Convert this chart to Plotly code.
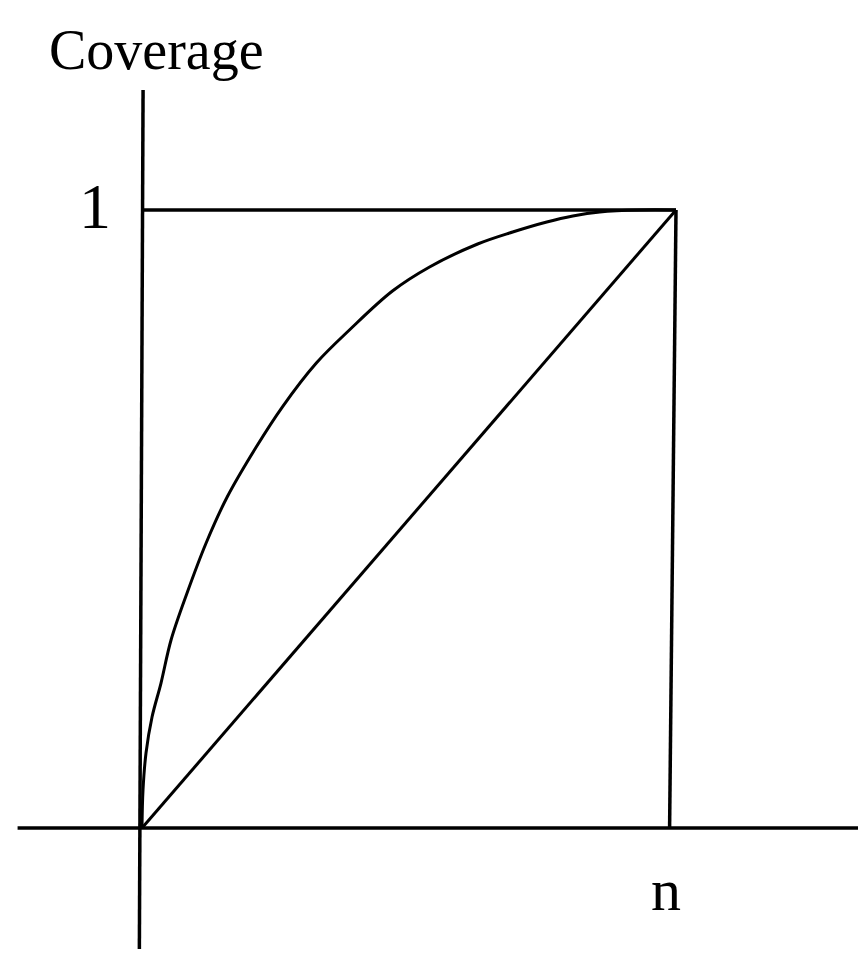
import plotly.graph_objects as go

# coverage curve, x in units of n, y as fraction covered
curve_x = [0, 0.0019, 0.0075, 0.0188, 0.0356, 0.0544, 0.0844, 0.1201, 0.1595,
           0.2139, 0.2627, 0.3265, 0.3884, 0.4690, 0.5385, 0.6285,
           0.6942, 0.7580, 0.8068, 0.8574, 0.9324, 1.0]
curve_y = [0, 0.0615, 0.1214, 0.1796, 0.2346, 0.3042, 0.3803, 0.4612, 0.5356,
           0.6165, 0.6812, 0.7524, 0.8058, 0.8689, 0.9078, 0.9450,
           0.9644, 0.9806, 0.9903, 0.9968, 1.0, 1.0]

# straight line coverage
diag_x = [0, 1]
diag_y = [0, 1]

# box: top edge at coverage 1, right edge at n
top_x = [0, 1]
top_y = [1, 1]
right_x = [1, 0.988]
right_y = [1, 0]

# the two axes
xaxis_x = [-0.233, 1.36]
xaxis_y = [0, 0]
yaxis_x = [0.002, -0.005]
yaxis_y = [1.194, -0.21]

# page body adds an 8px margin, so the figure is drawn 16px smaller
W, H = 850, 941
ox, oy = 134, 820   # origin in figure pixels
sx, sy = 534, 618   # pixels per unit

ink = 'black'
fig = go.Figure()

for xs, ys in [(xaxis_x, xaxis_y), (yaxis_x, yaxis_y), (top_x, top_y),
               (right_x, right_y)]:
    fig.add_trace(go.Scatter(x=xs, y=ys, mode='lines',
                             line=dict(color=ink, width=3.5), hoverinfo='skip'))

fig.add_trace(go.Scatter(x=diag_x, y=diag_y, mode='lines',
                         line=dict(color=ink, width=3), hoverinfo='skip'))
fig.add_trace(go.Scatter(x=curve_x, y=curve_y, mode='lines',
                         line=dict(color=ink, width=3, shape='spline', smoothing=1.0),
                         hoverinfo='skip'))

serif = 'Liberation Serif, Times New Roman, serif'
fig.add_annotation(x=(148 - ox) / sx, y=(oy - 42) / sy, text='Coverage',
                   showarrow=False, xanchor='center', yanchor='middle',
                   font=dict(family=serif, size=56, color=ink))
fig.add_annotation(x=(87 - ox) / sx, y=(oy - 198) / sy, text='1',
                   showarrow=False, xanchor='center', yanchor='middle',
                   font=dict(family=serif, size=64, color=ink))
fig.add_annotation(x=(658 - ox) / sx, y=(oy - 882) / sy, text='n',
                   showarrow=False, xanchor='center', yanchor='middle',
                   font=dict(family=serif, size=60, color=ink))

fig.update_layout(
    width=W, height=H,
    margin=dict(l=0, r=0, t=0, b=0),
    showlegend=False,
    paper_bgcolor='white', plot_bgcolor='white',
    xaxis=dict(range=[-ox / sx, (W - ox) / sx], visible=False, fixedrange=True),
    yaxis=dict(range=[(oy - H) / sy, oy / sy], visible=False, fixedrange=True),
)

fig.write_html("out.html")
